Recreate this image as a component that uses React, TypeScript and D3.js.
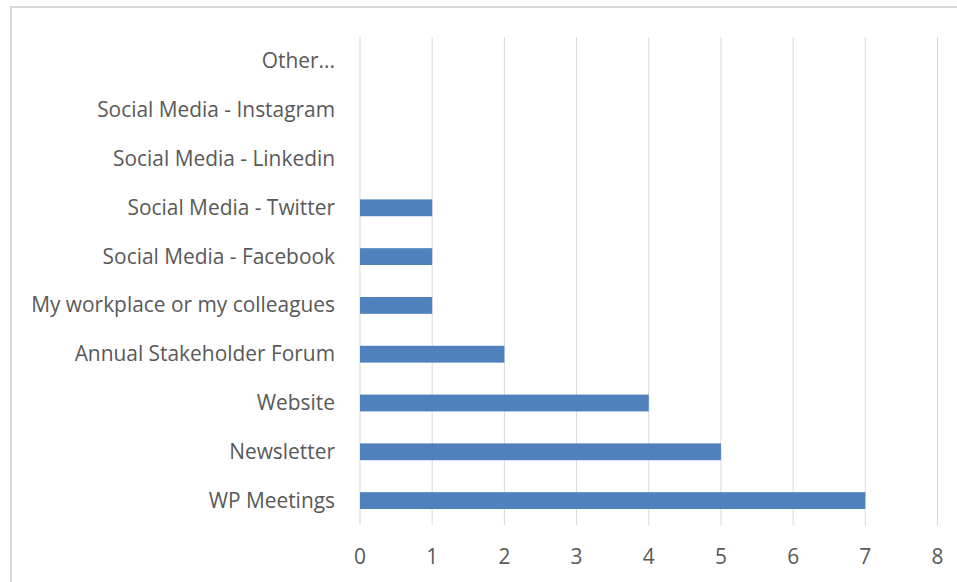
import React from "react";
import * as d3 from "d3";

const categories = [
  "Other...",
  "Social Media - Instagram",
  "Social Media - Linkedin",
  "Social Media - Twitter",
  "Social Media - Facebook",
  "My workplace or my colleagues",
  "Annual Stakeholder Forum",
  "Website",
  "Newsletter",
  "WP Meetings",
];
const values = [0, 0, 0, 1, 1, 1, 2, 4, 5, 7];
const ticks = [0, 1, 2, 3, 4, 5, 6, 7, 8];

const W = 957;
const H = 582;
const plot = { left: 360, right: 937.5, top: 37, bottom: 525 };
const font = "'Open Sans', sans-serif";

export default function App() {
  const x = d3.scaleLinear().domain([0, 8]).range([plot.left, plot.right]);
  const y = d3
    .scaleBand<string>()
    .domain(categories)
    .range([plot.top, plot.bottom])
    .paddingInner(0.655)
    .paddingOuter(0.3275);

  return (
    <svg
      width={W}
      height={H}
      style={{ position: "absolute", left: 0, top: 0, background: "#fff" }}
    >
      <rect x={11} y={7} width={W + 20} height={H + 20} fill="#fff" stroke="#d9d9d9" strokeWidth={2} />
      {ticks.map((t) => (
        <line
          key={t}
          x1={x(t)}
          x2={x(t)}
          y1={plot.top}
          y2={plot.bottom}
          stroke="#d9d9d9"
          strokeWidth={1}
        />
      ))}
      {categories.map((c, i) => (
        <rect
          key={c}
          x={x(0)}
          y={y(c)!}
          width={x(values[i]) - x(0)}
          height={y.bandwidth()}
          fill="#4f81bd"
        />
      ))}
      {categories.map((c) => (
        <text
          key={"l" + c}
          x={335}
          y={y(c)! + y.bandwidth() / 2 - 1}
          textAnchor="end"
          dominantBaseline="central"
          fontFamily={font}
          fontSize={20.9}
          fill="#595959"
        >
          {c}
        </text>
      ))}
      {ticks.map((t) => (
        <text
          key={"t" + t}
          x={x(t)}
          y={556}
          textAnchor="middle"
          dominantBaseline="central"
          fontFamily={font}
          fontSize={20.9}
          fill="#595959"
        >
          {t}
        </text>
      ))}
    </svg>
  );
}
